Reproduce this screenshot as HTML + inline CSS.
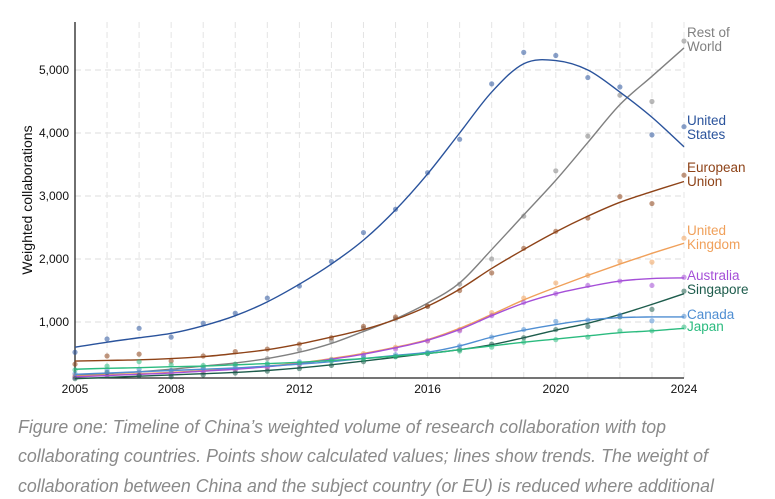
<!DOCTYPE html>
<html><head><meta charset="utf-8"><style>
body{margin:0;background:#fff;width:775px;height:499px;overflow:hidden;font-family:"Liberation Sans",sans-serif}
svg{display:block}
</style></head><body>
<svg id="chart" width="775" height="499" viewBox="0 0 775 499"></svg>
<script>
const years=[2005,2006,2007,2008,2009,2010,2011,2012,2013,2014,2015,2016,2017,2018,2019,2020,2021,2022,2023,2024];
const yTicks=[1000,2000,3000,4000,5000];
const xTicks=[2005,2008,2012,2016,2020,2024];
const usPts=[520,730,900,760,980,1140,1380,1570,1960,2420,2790,3370,3900,4780,5280,5230,4880,4730,3970,4100];
const usTrend=[600,680,750,820,940,1100,1320,1600,1920,2300,2780,3350,4000,4650,5100,5150,5000,4650,4250,3780];
const rowPts=[130,170,200,230,280,330,420,560,700,900,1050,1250,1600,2000,2680,3400,3950,4600,4500,5460];
const rowTrend=[150,180,210,250,300,350,420,520,660,850,1050,1300,1620,2150,2700,3250,3850,4450,4900,5350];
const euPts=[330,460,490,380,460,530,570,650,750,930,1080,1250,1500,1780,2170,2440,2650,2990,2880,3330];
const euTrend=[380,390,400,420,450,500,560,650,760,880,1040,1250,1520,1850,2150,2430,2680,2900,3070,3230];
const ukPts=[150,170,180,190,220,250,290,340,410,500,600,700,880,1150,1380,1620,1740,1960,1950,2330];
const ukTrend=[140,160,180,200,230,260,300,350,420,500,600,720,900,1120,1350,1550,1740,1920,2090,2250];
const auPts=[120,150,160,170,200,230,270,320,390,470,570,700,860,1100,1310,1450,1580,1650,1580,1710];
const auTrend=[130,150,170,190,220,250,290,340,410,490,590,710,880,1100,1300,1450,1560,1650,1690,1700];
const sgPts=[100,200,150,130,160,190,220,260,310,370,450,500,560,650,750,880,930,1080,1200,1490];
const sgTrend=[100,120,140,160,180,200,230,270,320,380,440,500,560,640,750,870,980,1120,1280,1450];
const caPts=[180,240,250,230,270,300,330,370,400,440,480,520,620,760,880,1010,1030,1110,1020,1090];
const caTrend=[170,190,210,230,250,270,300,330,370,420,470,520,620,760,870,960,1030,1070,1080,1080];
const jpPts=[240,300,370,320,310,330,340,350,380,410,450,500,540,600,680,720,760,860,860,920];
const jpTrend=[250,265,275,290,300,320,340,360,390,420,460,500,560,620,680,730,780,830,860,900];
const series=[
 {key:'rest-of-world',label:['Rest of','World'],color:'#808080',pts:rowPts,trend:rowTrend,ly:[37,51]},
 {key:'united-states',label:['United','States'],color:'#2a539c',pts:usPts,trend:usTrend,ly:[125,139]},
 {key:'european-union',label:['European','Union'],color:'#8e4318',pts:euPts,trend:euTrend,ly:[172,186]},
 {key:'united-kingdom',label:['United','Kingdom'],color:'#f0a05a',pts:ukPts,trend:ukTrend,ly:[235,249]},
 {key:'australia',label:['Australia'],color:'#a54fd8',pts:auPts,trend:auTrend,ly:[280]},
 {key:'singapore',label:['Singapore'],color:'#1d5c4c',pts:sgPts,trend:sgTrend,ly:[294]},
 {key:'canada',label:['Canada'],color:'#4f8ed2',pts:caPts,trend:caTrend,ly:[319]},
 {key:'japan',label:['Japan'],color:'#2bbb7f',pts:jpPts,trend:jpTrend,ly:[331]}
];
const NS='http://www.w3.org/2000/svg';
const svg=document.getElementById('chart');
const X=v=>75+(v-2005)*(684-75)/19;
const Y=v=>385-v*0.063;
function mk(t,a,p){const e=document.createElementNS(NS,t);for(const k in a)e.setAttribute(k,a[k]);(p||svg).appendChild(e);return e;}
// grid
yTicks.forEach(t=>{
 const g=mk('line',{x1:75,x2:684,y1:Y(t),y2:Y(t),stroke:'#ddd','stroke-dasharray':'6 4'});
 
 
 const l=mk('text',{x:69,y:Y(t)+4,'text-anchor':'end','font-size':12,fill:'#111'});
 l.textContent=t.toLocaleString('en-US');
 
 
});
years.forEach(yr=>{if(yr===2005)return;
 const g=mk('line',{x1:X(yr),x2:X(yr),y1:22,y2:378,stroke:'#e4e4e4','stroke-dasharray':'6 4'});
 
 
});
xTicks.forEach(t=>{
 const l=mk('text',{x:X(t),y:393,'text-anchor':'middle','font-size':12,fill:'#111'});
 l.textContent=t;
 
 
});
const ax=mk('path',{d:'M75 22V378H684',fill:'none',stroke:'#222','stroke-width':1.3});


const yt=mk('text',{x:0,y:0,transform:'translate(32 200) rotate(-90)','text-anchor':'middle','font-size':14,fill:'#111'});
yt.textContent='Weighted collaborations';


function smooth(ps){let d='M'+ps[0][0]+' '+ps[0][1];
 for(let i=0;i<ps.length-1;i++){const p0=ps[i-1]||ps[i],p1=ps[i],p2=ps[i+1],p3=ps[i+2]||p2;
  d+=` C${p1[0]+(p2[0]-p0[0])/6} ${p1[1]+(p2[1]-p0[1])/6} ${p2[0]-(p3[0]-p1[0])/6} ${p2[1]-(p3[1]-p1[1])/6} ${p2[0]} ${p2[1]}`;}
 return d;}
series.forEach(s=>{
 const g=mk('g',{});
 
 
 s.pts.forEach((v,i)=>{
  const c=mk('circle',{cx:X(years[i]),cy:Y(v),r:2.6,fill:s.color,opacity:0.55},g);
  
  
 });
 const p=mk('path',{d:smooth(s.trend.map((v,i)=>[X(years[i]),Y(v)])),fill:'none',stroke:s.color,'stroke-width':1.4},g);
 
 
 const t=mk('text',{x:687,y:0,'font-size':13.5,fill:s.color},g);
 s.label.forEach((ln,i)=>{const sp=mk('tspan',{x:687,y:s.ly[i]},t);sp.textContent=ln;});
 
 
});
const caption=[['Figure one: Timeline of China’s weighted volume of research collaboration with top',433,648],
['collaborating countries. Points show calculated values; lines show trends. The weight of',462,690],
['collaboration between China and the subject country (or EU) is reduced where additional',492,696]];
caption.forEach(c=>{
 const t=mk('text',{x:18,y:c[1],'font-size':18,'font-style':'italic',fill:'#8a8a8a',textLength:c[2],lengthAdjust:'spacingAndGlyphs'});
 t.textContent=c[0];
 
 
});
</script>
</body></html>
